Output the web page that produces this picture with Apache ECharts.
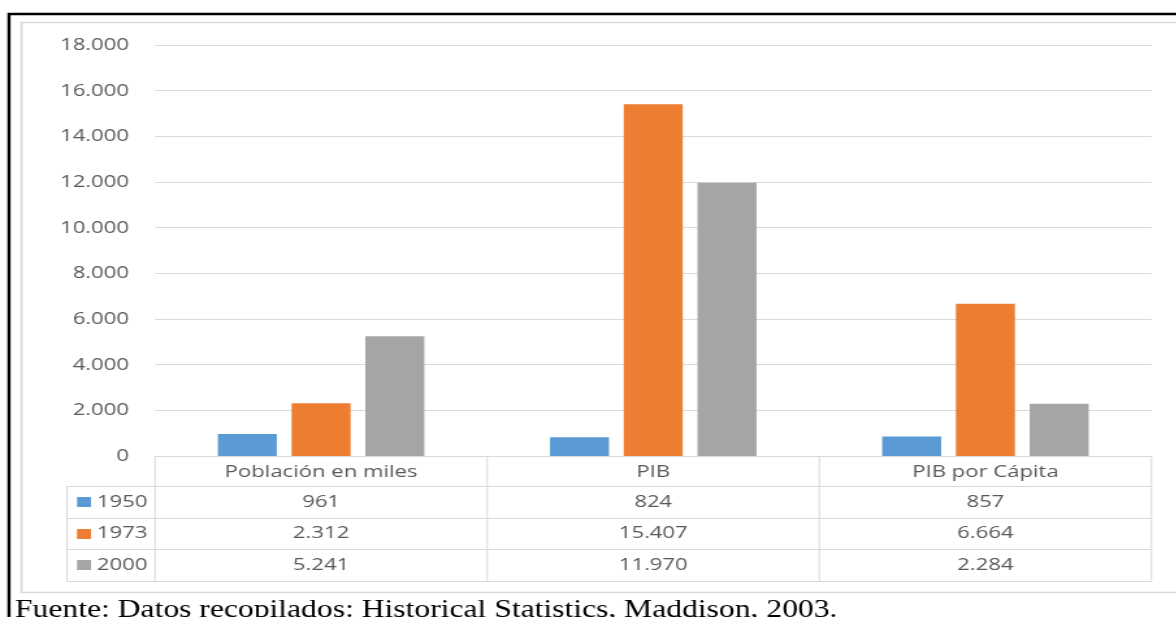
<!DOCTYPE html>
<html>
<head>
<meta charset="utf-8">
<script src="https://cdn.jsdelivr.net/npm/echarts@6/dist/echarts.min.js"></script>
<style>
  html, body { margin: 0; padding: 0; background: #fff; overflow: hidden; }
  /* la imagen original esta estirada a lo ancho: se dibuja mas estrecha y se estira */
  #chart { width: 905px; height: 617px; transform: scaleX(1.3); transform-origin: 0 0; }
</style>
</head>
<body>
<div id="chart"></div>
<script>
// datos
var categorias = ['Población en miles', 'PIB', 'PIB por Cápita'];
var anios = ['1950', '1973', '2000'];
var serie1950 = [961, 824, 857];
var serie1973 = [2312, 15407, 6664];
var serie2000 = [5241, 11970, 2284];
var colores = ['#5B9BD5', '#ED7D31', '#A5A5A5'];
var fuente = 'Fuente: Datos recopilados: Historical Statistics, Maddison, 2003.';

var series = [serie1950, serie1973, serie2000];
var S = 1.3;
var gris = '#595959';
var linea = '#d9d9d9';
var fontSans = 'Open Sans, Liberation Sans, sans-serif';

function px(x) { return x / S; }

function fmt(v) {
    return String(v).replace(/\B(?=(\d{3})+(?!\d))/g, '.');
}

var chart = echarts.init(document.getElementById('chart'));

var option = {
    animation: false,
    backgroundColor: '#fff',
    color: colores,
    grid: { left: px(155), right: px(25), top: 45, bottom: 161 },
    xAxis: {
        type: 'category',
        data: categorias,
        axisLine: { lineStyle: { color: linea } },
        axisTick: { show: false },
        axisLabel: { color: gris, fontSize: 17, fontFamily: fontSans, margin: 8 }
    },
    yAxis: {
        type: 'value',
        min: 0,
        max: 18000,
        interval: 2000,
        axisLabel: {
            color: gris, fontSize: 17, fontFamily: fontSans, margin: px(26),
            formatter: function (v) { return fmt(v); }
        },
        splitLine: { lineStyle: { color: linea } }
    },
    series: anios.map(function (a, i) {
        return {
            name: a,
            type: 'bar',
            data: series[i],
            barWidth: px(59),
            barGap: '25%',
            itemStyle: { color: colores[i] }
        };
    })
};
chart.setOption(option);

// tabla de datos debajo del eje
function dibujarTabla() {
    var y0 = chart.convertToPixel({ yAxisIndex: 0 }, 0);
    var c0 = chart.convertToPixel({ xAxisIndex: 0 }, 0);
    var c1 = chart.convertToPixel({ xAxisIndex: 0 }, 1);
    var ancho = c1 - c0;
    var xIni = c0 - ancho / 2;
    var xFin = xIni + ancho * categorias.length;
    var xLeyenda = px(67);
    var altoCab = 30;
    var altoFila = 31.7;
    var els = [];

    // marcos
    els.push({ type: 'rect', shape: { x: px(9), y: 14, width: 1000, height: 800 },
        style: { fill: null, stroke: '#000', lineWidth: 2.4 } });
    els.push({ type: 'rect', shape: { x: px(21.5), y: 22.5, width: 1000, height: 570 },
        style: { fill: null, stroke: linea, lineWidth: 1.5 } });

    var yFil = y0 + altoCab;
    var yFinal = yFil + altoFila * anios.length;
    // lineas horizontales
    for (var r = 0; r <= anios.length; r++) {
        var yy = Math.round(yFil + altoFila * r) + 0.5;
        els.push({ type: 'line', shape: { x1: xLeyenda, y1: yy, x2: xFin, y2: yy },
            style: { stroke: linea, lineWidth: 1 } });
    }
    // lineas verticales
    els.push({ type: 'line', shape: { x1: xLeyenda, y1: yFil, x2: xLeyenda, y2: yFinal },
        style: { stroke: linea, lineWidth: 1 } });
    for (var c = 0; c <= categorias.length; c++) {
        var xx = xIni + ancho * c;
        els.push({ type: 'line', shape: { x1: xx, y1: y0, x2: xx, y2: yFinal },
            style: { stroke: linea, lineWidth: 1 } });
    }
    // filas
    for (var i = 0; i < anios.length; i++) {
        var yc = yFil + altoFila * (i + 0.5);
        els.push({ type: 'rect', shape: { x: px(77), y: Math.round(yc - 5), width: px(14), height: 10 },
            style: { fill: colores[i] } });
        els.push({ type: 'text', x: px(97), y: yc,
            style: { text: anios[i], fill: gris, fontSize: 17, fontFamily: fontSans,
                verticalAlign: 'middle', align: 'left' } });
        for (var j = 0; j < categorias.length; j++) {
            els.push({ type: 'text', x: xIni + ancho * (j + 0.5), y: yc,
                style: { text: fmt(series[i][j]), fill: gris, fontSize: 17, fontFamily: fontSans,
                    verticalAlign: 'middle', align: 'center' } });
        }
    }
    // fuente
    els.push({ type: 'text', x: px(15), y: 597, scaleX: 0.935,
        style: { text: fuente, fill: '#000', fontSize: 26,
            fontFamily: 'Liberation Serif, Times New Roman, serif', verticalAlign: 'top' } });

    chart.setOption({ graphic: els });
}
dibujarTabla();
</script>
</body>
</html>
